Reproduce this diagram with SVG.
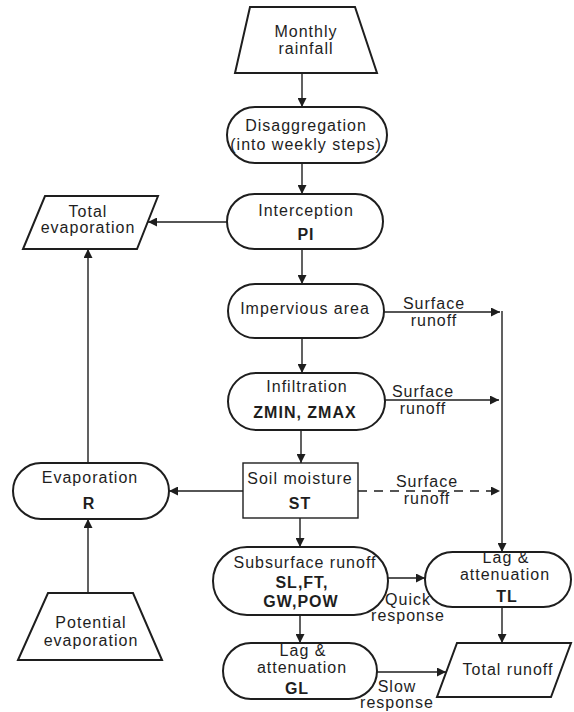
<svg xmlns="http://www.w3.org/2000/svg" width="574" height="712" viewBox="0 0 574 712">
<style>
text{font-family:"Liberation Sans",Arial,Helvetica,sans-serif;font-size:16px;letter-spacing:1px;fill:#1e1e1e;text-anchor:middle}
.b{font-weight:bold}
.n{fill:#fff;stroke:#1e1e1e;stroke-width:2}
.r{fill:#fff;stroke:#1e1e1e;stroke-width:1.4}
.c{fill:none;stroke:#1e1e1e;stroke-width:1.4}
.d{stroke-dasharray:9 7}
</style>
<defs>
<marker id="ah" viewBox="0 0 10 10" refX="10" refY="5" markerWidth="9" markerHeight="9" markerUnits="userSpaceOnUse" orient="auto">
<path d="M0,0 L10,5 L0,10 z" fill="#1e1e1e"/>
</marker>
</defs>
<g id="connectors">
<line class="c" x1="302" y1="73" x2="302" y2="107" marker-end="url(#ah)"/>
<line class="c" x1="302" y1="163" x2="302" y2="194" marker-end="url(#ah)"/>
<line class="c" x1="302" y1="249" x2="302" y2="284" marker-end="url(#ah)"/>
<line class="c" x1="302" y1="338" x2="302" y2="373" marker-end="url(#ah)"/>
<line class="c" x1="301" y1="430" x2="301" y2="463" marker-end="url(#ah)"/>
<line class="c" x1="300" y1="518" x2="300" y2="547" marker-end="url(#ah)"/>
<line class="c" x1="300" y1="615" x2="300" y2="643" marker-end="url(#ah)"/>
<line class="c" x1="227" y1="222" x2="148" y2="222" marker-end="url(#ah)"/>
<line class="c" x1="88" y1="463" x2="88" y2="249" marker-end="url(#ah)"/>
<line class="c" x1="243" y1="491" x2="169" y2="491" marker-end="url(#ah)"/>
<line class="c" x1="88" y1="593" x2="88" y2="519" marker-end="url(#ah)"/>
<line class="c" x1="384" y1="312" x2="500" y2="312" marker-end="url(#ah)"/>
<line class="c" x1="385" y1="400" x2="499" y2="400" marker-end="url(#ah)"/>
<line class="c d" x1="358" y1="491" x2="500" y2="491" marker-end="url(#ah)"/>
<line class="c" x1="502" y1="311" x2="502" y2="552" marker-end="url(#ah)"/>
<line class="c" x1="388" y1="578" x2="425" y2="578" marker-end="url(#ah)"/>
<line class="c" x1="502" y1="607" x2="502" y2="643" marker-end="url(#ah)"/>
<line class="c" x1="377" y1="672" x2="446" y2="672" marker-end="url(#ah)"/>
<text x="434" y="309">Surface</text>
<text x="434" y="326">runoff</text>
<text x="423" y="397">Surface</text>
<text x="423" y="414">runoff</text>
<text x="427" y="487">Surface</text>
<text x="427" y="504">runoff</text>
<text x="408" y="605">Quick</text>
<text x="408" y="621">response</text>
<text x="397" y="692">Slow</text>
<text x="397" y="708">response</text>
</g>
<g id="monthly-rainfall">
<polygon class="n" points="250,7 355,7 377,73 235,73"/>
<text x="306" y="37">Monthly</text>
<text x="306" y="54">rainfall</text>
</g>
<g id="disaggregation">
<rect class="n" x="227" y="107" width="160" height="56" rx="28"/>
<text x="306" y="131">Disaggregation</text>
<text x="306" y="150">(into weekly steps)</text>
</g>
<g id="interception">
<rect class="n" x="227" y="194" width="156" height="55" rx="27.5"/>
<text x="306" y="216">Interception</text>
<text class="b" x="306" y="240">PI</text>
</g>
<g id="impervious-area">
<rect class="n" x="228" y="284" width="156" height="54" rx="27"/>
<text x="305" y="314">Impervious area</text>
</g>
<g id="infiltration">
<rect class="n" x="228" y="373" width="157" height="57" rx="28.5"/>
<text x="307" y="392">Infiltration</text>
<text class="b" x="305" y="418">ZMIN, ZMAX</text>
</g>
<g id="soil-moisture">
<rect class="r" x="243" y="463" width="115" height="55"/>
<text x="300" y="484">Soil moisture</text>
<text class="b" x="300" y="509">ST</text>
</g>
<g id="subsurface-runoff">
<rect class="n" x="213" y="547" width="175" height="68" rx="34"/>
<text x="305" y="568">Subsurface runoff</text>
<text class="b" x="302" y="588">SL,FT,</text>
<text class="b" x="301" y="607">GW,POW</text>
</g>
<g id="lag-gl">
<rect class="n" x="223" y="643" width="154" height="56" rx="28"/>
<text x="303" y="656">Lag &amp;</text>
<text x="302" y="673">attenuation</text>
<text class="b" x="297" y="694">GL</text>
</g>
<g id="lag-tl">
<rect class="n" x="425" y="552" width="146" height="55" rx="27.5"/>
<text x="506" y="563">Lag &amp;</text>
<text x="505" y="580">attenuation</text>
<text class="b" x="507" y="602">TL</text>
</g>
<g id="total-runoff">
<polygon class="n" points="457,643 571,643 551,697 437,697"/>
<text x="508" y="675">Total runoff</text>
</g>
<g id="total-evaporation">
<polygon class="n" points="45,196 158,196 137,249 23,249"/>
<text x="88" y="217">Total</text>
<text x="88" y="233">evaporation</text>
</g>
<g id="evaporation">
<rect class="n" x="13" y="463" width="156" height="56" rx="28"/>
<text x="90" y="483">Evaporation</text>
<text class="b" x="89" y="509">R</text>
</g>
<g id="potential-evaporation">
<polygon class="n" points="48,593 133,593 162,660 18,660"/>
<text x="91" y="628">Potential</text>
<text x="91" y="646">evaporation</text>
</g>
</svg>
